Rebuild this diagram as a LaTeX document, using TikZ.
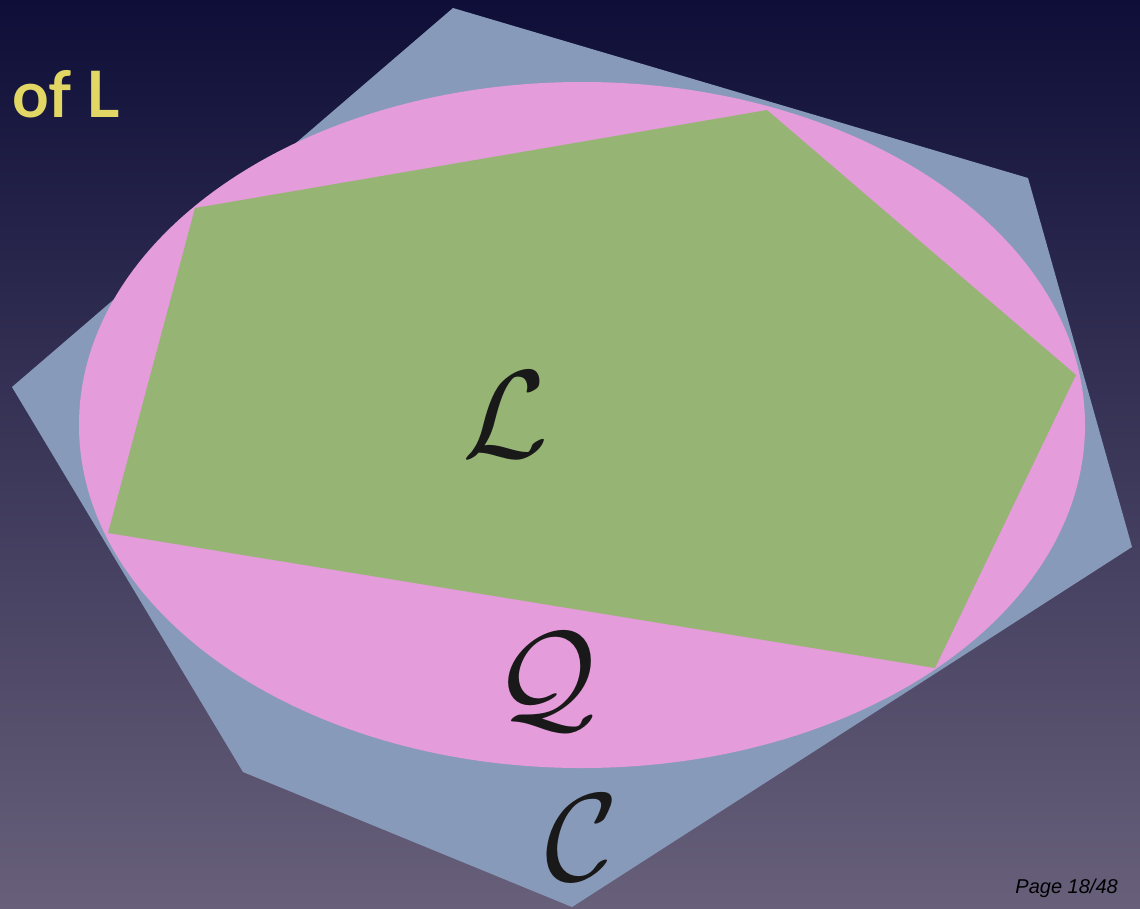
\documentclass[tikz,border=0pt]{standalone}
\usepackage{fontspec}
\newfontfamily\titlefont{Lato}
\newfontfamily\pagefont{Liberation Sans}
\definecolor{bgtop}{RGB}{14,14,56}
\definecolor{bgmid}{RGB}{42,36,84}
\definecolor{bgbot}{RGB}{104,96,122}
\definecolor{cblue}{RGB}{136,154,186}
\definecolor{qpink}{RGB}{228,156,218}
\definecolor{lgreen}{RGB}{150,180,116}
\definecolor{titleyellow}{RGB}{226,214,100}
\tikzset{
  biglabel/.style={inner sep=0pt, text=black!90},
}
\newcommand{\bigcal}[1]{\scalebox{12.5}{$\mathcal{#1}$}}
\begin{document}
\begin{tikzpicture}[x=1pt,y=-1pt]
\useasboundingbox (0,0) rectangle (1140,908);
\shade[top color=bgtop, middle color=bgmid, bottom color=bgbot] (0,0) rectangle (1140,908);
% C polygon
\fill[cblue] (453,8) -- (1028,178) -- (1132,547) -- (572,907) -- (243,772) -- (12,387) -- cycle;
% Q ellipse
\fill[qpink] (582,425) ellipse [x radius=503pt, y radius=343pt];
% L polygon
\fill[lgreen] (195,208) -- (767,110) -- (1076,375) -- (935,668) -- (108,533) -- cycle;
% labels
\node[biglabel] (Ll) at (506,415) {\bigcal{L}};
\node[biglabel] (Ql) at (546,682) {\bigcal{Q}};
\node[biglabel] (Cl) at (582,838) {\bigcal{C}};
\node[anchor=base west, inner sep=0pt, text=titleyellow, font=\titlefont\bfseries\fontsize{64}{64}\selectfont] (title) at (12,117) {of L};
\node[anchor=base east, inner sep=0pt, text=black, font=\pagefont\itshape\fontsize{20}{20}\selectfont] (page) at (1118,893) {Page 18/48};
\end{tikzpicture}
\end{document}
